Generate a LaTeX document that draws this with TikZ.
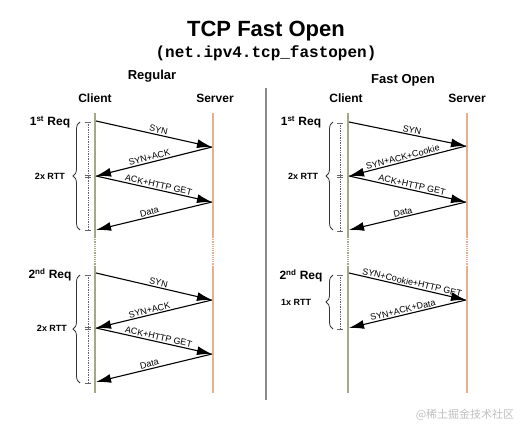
\documentclass[tikz,border=0pt]{standalone}
\usepackage{fontspec}
\setmainfont{Liberation Sans}
\setmonofont{Liberation Mono}
\newfontfamily\cjkfont{Noto Sans CJK SC}
\usetikzlibrary{arrows.meta,decorations.pathreplacing}
\definecolor{clientcol}{HTML}{A3A985}
\definecolor{servercol}{HTML}{E8AE90}
\definecolor{divcol}{HTML}{8A8A8A}
\tikzset{
  msg/.style={draw=black, line width=1.1pt, -{Latex[length=15pt,width=9pt]}},
  msglbl/.style={font=\fontsize{9}{10}\selectfont, sloped, above, inner sep=1.2pt, pos=0.53},
  clientline/.style={draw=clientcol, line width=1.6pt},
  serverline/.style={draw=servercol, line width=1.6pt},
  clientdot/.style={draw=clientcol, line width=1.2pt, densely dotted},
  serverdot/.style={draw=servercol, line width=1.2pt, densely dotted},
  hdr/.style={font=\bfseries\fontsize{12}{14}\selectfont, inner sep=0pt},
  reqlbl/.style={font=\bfseries\fontsize{12}{14}\selectfont, inner sep=0pt},
  rttlbl/.style={font=\bfseries\fontsize{9}{10}\selectfont, inner sep=0pt},
  bracestyle/.style={draw=black!80, line width=0.8pt, decorate, decoration={brace, amplitude=7pt}},
  measure/.style={draw=black!60, line width=0.7pt, densely dotted},
  tick/.style={draw=black!60, line width=0.7pt},
}
\begin{document}
\begin{tikzpicture}[x=1pt, y=-1pt]
\useasboundingbox (0,0) rectangle (521,435);
% titles
\node[font=\bfseries\fontsize{22}{24}\selectfont, inner sep=0pt] (title) at (266,31) {TCP Fast Open};
\node[font=\ttfamily\bfseries\fontsize{16}{18}\selectfont, inner sep=0pt] (subtitle) at (266,53) {(net.ipv4.tcp\_fastopen)};
\node[font=\bfseries\fontsize{13}{15}\selectfont, inner sep=0pt] (regular) at (152,76) {Regular};
\node[font=\bfseries\fontsize{13}{15}\selectfont, inner sep=0pt] (fastopen) at (403,80) {Fast Open};
% divider
\coordinate (divtop) at (266,88);
\coordinate (divbot) at (266,400);
\draw[draw=divcol, line width=2pt] (divtop) -- (divbot);

% headers
\node[hdr] (lclient) at (95,98) {Client};
\node[hdr] (lserver) at (215,98) {Server};
\node[hdr] (rclient) at (346,98) {Client};
\node[hdr] (rserver) at (467,98) {Server};

% lifelines
\foreach \n/\x in {L/95, R/348} {
  \coordinate (\n c0) at (\x,113);
  \coordinate (\n c1) at (\x,237);
  \coordinate (\n c2) at (\x,267);
  \coordinate (\n c3) at (\x,393);
  \draw[clientline] (\n c0) -- (\n c1);
  \draw[clientdot] (\n c1) -- (\n c2);
  \draw[clientline] (\n c2) -- (\n c3);
}
\foreach \n/\x in {L/213, R/467} {
  \coordinate (\n s0) at (\x,113);
  \coordinate (\n s1) at (\x,237);
  \coordinate (\n s2) at (\x,267);
  \coordinate (\n s3) at (\x,393);
  \draw[serverline] (\n s0) -- (\n s1);
  \draw[serverdot] (\n s1) -- (\n s2);
  \draw[serverline] (\n s2) -- (\n s3);
}

% Left, 1st request
\coordinate (la1) at (96,121);
\coordinate (la2) at (212,147);
\coordinate (la3) at (96,176);
\coordinate (la4) at (212,202);
\coordinate (la5) at (96,230);
\draw[msg] (la1) -- node[msglbl] (lsyn1) {SYN} (la2);
\draw[msg] (la2) -- node[msglbl] (lsynack1) {SYN+ACK} (la3);
\draw[msg] (la3) -- node[msglbl] (lack1) {ACK+HTTP GET} (la4);
\draw[msg] (la4) -- node[msglbl] (ldata1) {Data} (la5);

% Left, 2nd request
\coordinate (lb1) at (96,273);
\coordinate (lb2) at (212,300);
\coordinate (lb3) at (96,328);
\coordinate (lb4) at (212,354);
\coordinate (lb5) at (96,382);
\draw[msg] (lb1) -- node[msglbl] (lsyn2) {SYN} (lb2);
\draw[msg] (lb2) -- node[msglbl] (lsynack2) {SYN+ACK} (lb3);
\draw[msg] (lb3) -- node[msglbl] (lack2) {ACK+HTTP GET} (lb4);
\draw[msg] (lb4) -- node[msglbl] (ldata2) {Data} (lb5);

% Right, 1st request
\coordinate (ra1) at (349,122);
\coordinate (ra2) at (466,146);
\coordinate (ra3) at (349,176);
\coordinate (ra4) at (466,202);
\coordinate (ra5) at (349,230);
\draw[msg] (ra1) -- node[msglbl] (rsyn1) {SYN} (ra2);
\draw[msg] (ra2) -- node[msglbl] (rsynack1) {SYN+ACK+Cookie} (ra3);
\draw[msg] (ra3) -- node[msglbl] (rack1) {ACK+HTTP GET} (ra4);
\draw[msg] (ra4) -- node[msglbl] (rdata1) {Data} (ra5);

% Right, 2nd request
\coordinate (rb1) at (349,273);
\coordinate (rb2) at (466,300);
\coordinate (rb3) at (349,328);
\draw[msg] (rb1) -- node[msglbl] (rsyn2) {SYN+Cookie+HTTP GET} (rb2);
\draw[msg] (rb2) -- node[msglbl] (rsynack2) {SYN+ACK+Data} (rb3);

% Request labels
\node[reqlbl] (lreq1) at (50,122) {1\textsuperscript{st} Req};
\node[reqlbl] (lreq2) at (50,275) {2\textsuperscript{nd} Req};
\node[reqlbl] (rreq1) at (301,122) {1\textsuperscript{st} Req};
\node[reqlbl] (rreq2) at (301,276) {2\textsuperscript{nd} Req};

% RTT labels
\node[rttlbl] (lrtt1) at (50,176) {2x RTT};
\node[rttlbl] (lrtt2) at (52,328) {2x RTT};
\node[rttlbl] (rrtt1) at (303,176) {2x RTT};
\node[rttlbl] (rrtt2) at (296,302) {1x RTT};

% braces (drawn bottom to top so the tip points left)
\coordinate (lbr1b) at (80,230); \coordinate (lbr1t) at (80,122);
\coordinate (lbr2b) at (80,383); \coordinate (lbr2t) at (80,275);
\coordinate (rbr1b) at (333,230); \coordinate (rbr1t) at (333,122);
\coordinate (rbr2b) at (333,329); \coordinate (rbr2t) at (333,275);
\draw[bracestyle] (lbr1b) -- (lbr1t);
\draw[bracestyle] (lbr2b) -- (lbr2t);
\draw[bracestyle] (rbr1b) -- (rbr1t);
\draw[bracestyle] (rbr2b) -- (rbr2t);

% measurement bars
\foreach \x/\t/\m/\b in {88/122/176/230, 88/275/328/383, 340/123/176/231} {
  \coordinate (mt) at (\x,\t);
  \coordinate (mb) at (\x,\b);
  \draw[measure] (mt) -- (mb);
  \draw[tick] (\x-3,\t) -- (\x+3,\t);
  \draw[tick] (\x-3,\b) -- (\x+3,\b);
  \draw[tick] (\x-3,\m-1) -- (\x+3,\m-1);
  \draw[tick] (\x-3,\m+1) -- (\x+3,\m+1);
}
\coordinate (mrt) at (340,275);
\coordinate (mrb) at (340,329);
\draw[measure] (mrt) -- (mrb);
\draw[tick] (337,275) -- (343,275);
\draw[tick] (337,329) -- (343,329);

% watermark
\node[font=\cjkfont\fontsize{11}{12}\selectfont, text=black!25, inner sep=0pt] (wm) at (465,415) {@稀土掘金技术社区};
\end{tikzpicture}
\end{document}
